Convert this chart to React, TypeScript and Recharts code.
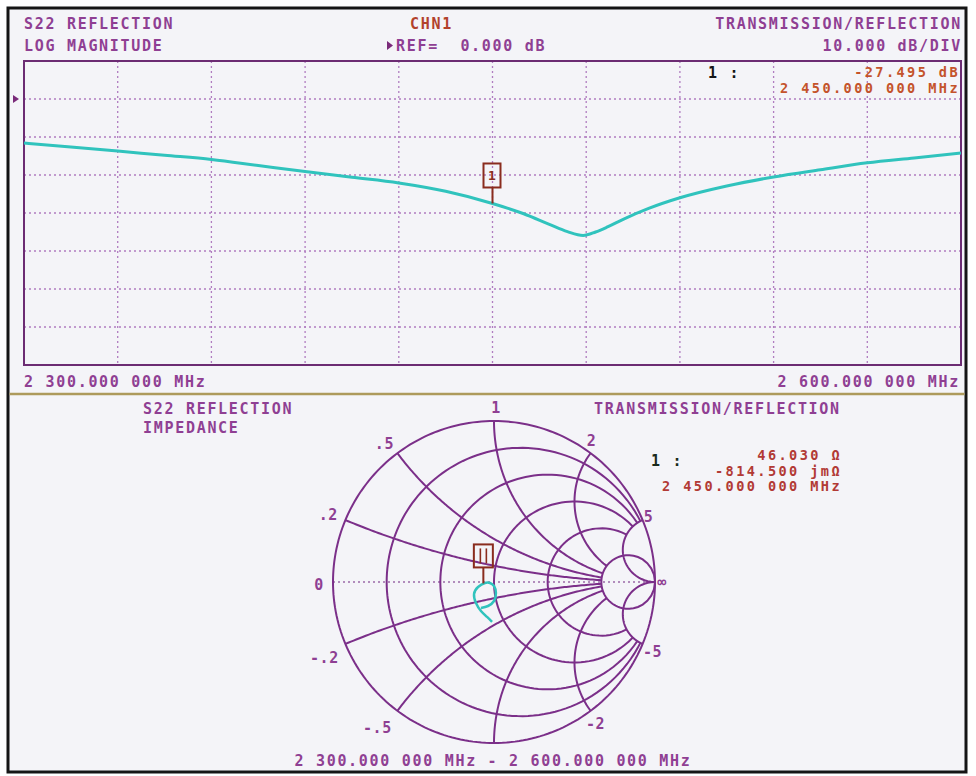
import React from 'react';
import {
  LineChart,
  Line,
  XAxis,
  YAxis,
  CartesianGrid,
  ReferenceArea,
  ReferenceDot,
  ReferenceLine,
  ScatterChart,
  Scatter,
} from 'recharts';

// ---------------- Data ----------------
const freqMHz = [2300, 2315, 2330, 2345, 2360, 2375, 2390, 2405, 2420, 2435, 2450, 2460, 2468, 2474, 2479, 2483, 2487, 2492, 2500, 2510, 2525, 2540, 2555, 2570, 2585, 2600];
const s22LogMagDb = [-11.6, -12.6, -13.7, -14.8, -15.9, -17.5, -19.1, -20.6, -22.1, -24.3, -27.5, -30.2, -32.9, -34.9, -35.9, -35.0, -33.6, -31.6, -28.8, -26.0, -22.9, -20.5, -18.6, -16.8, -15.5, -14.2];
const freqTicks = [2300, 2330, 2360, 2390, 2420, 2450, 2480, 2510, 2540, 2570, 2600];
const dbTicks = [-70, -60, -50, -40, -30, -20, -10, 0, 10];
const markerFreqMHz = 2450;
const markerDb = -27.495;

// Smith chart trace (reflection coefficient, real / imaginary)
const smithGammaRe = [-0.012, -0.043, -0.081, -0.112, -0.124, -0.099, -0.056, -0.025, 0.0, 0.012, 0.0, -0.037, -0.081];
const smithGammaIm = [-0.248, -0.217, -0.18, -0.13, -0.075, -0.031, -0.006, -0.006, -0.025, -0.068, -0.118, -0.149, -0.161];
const markerResOhm = 46.03;
const markerReactOhm = -0.8145;
const z0Ohm = 50;

const resistanceCircles = [0.2, 0.5, 1, 2, 5];
const reactanceArcs = [0.2, 0.5, 1, 2, 5];
const reactanceLabels = ['.2', '.5', '1', '2', '5'];

// ---------------- Styles ----------------
const PURPLE_TEXT = '#8f3f93';
const GRID = '#b07cc0';
const BORDER = '#6c2c73';
const SMITH = '#7b2f89';
const CYAN = '#30c3bd';
const BRICK = '#b2422c';
const ORANGE = '#c4532b';
const RED = '#b23a35';
const MARKER = '#8a2c1e';
const BLACK = '#151515';

const txt: React.CSSProperties = {
  fontFamily: "'DejaVu Sans Mono', monospace",
  fontSize: 15,
  fontWeight: 700,
  letterSpacing: 1.7,
};
const txtSmall: React.CSSProperties = { ...txt, fontSize: 13.6, letterSpacing: 2.4 };

const labelOffsets: Record<string, [number, number]> = {
  '1': [2, -13],
  '.5': [-13, -9],
  '2': [1, -12],
  '.2': [-17, -5],
  '5': [6, -3],
  '0': [-14, 3],
  '∞': [7, 0],
  '-.2': [-21, 14],
  '-5': [10, 8],
  '-.5': [-20, 17],
  '-2': [5, 13],
};

// ---------------- Derived tables ----------------
const topData = freqMHz.map((f, i) => ({ f, db: s22LogMagDb[i] }));
const traceData = smithGammaRe.map((x, i) => ({ x, y: smithGammaIm[i] }));

function gammaOf(r: number, x: number) {
  const den = (r + 1) * (r + 1) + x * x;
  return { x: (r * r + x * x - 1) / den, y: (2 * x) / den };
}

const markerGamma = gammaOf(markerResOhm / z0Ohm, markerReactOhm / z0Ohm);

const N = 140;
const maxR = Math.max(...resistanceCircles);
const maxX = Math.max(...reactanceArcs);

function resistanceCurve(r: number) {
  const lim = r === maxR ? Math.PI / 2 - 1e-3 : Math.atan(maxX);
  const pts = [] as { x: number; y: number }[];
  for (let i = 0; i <= N; i++) {
    const t = -lim + (2 * lim * i) / N;
    pts.push(gammaOf(r, Math.tan(t)));
  }
  return pts;
}

function reactanceCurve(x: number) {
  const lim = Math.abs(x) === maxX ? Math.PI / 2 - 1e-3 : Math.atan(maxR);
  const pts = [] as { x: number; y: number }[];
  for (let i = 0; i <= N; i++) {
    const s = (lim * i) / N;
    pts.push(gammaOf(Math.tan(s), x));
  }
  return pts;
}

const outerCircle = Array.from({ length: 241 }, (_, i) => {
  const a = (2 * Math.PI * i) / 240;
  return { x: Math.cos(a), y: Math.sin(a) };
});

const graticule = [
  outerCircle,
  ...resistanceCircles.map((r) => resistanceCurve(r)),
  ...reactanceArcs.map((x) => reactanceCurve(x)),
  ...reactanceArcs.map((x) => reactanceCurve(-x)),
];

const smithLabels = [
  ...reactanceArcs.map((x, i) => ({ ...gammaOf(0, x), label: reactanceLabels[i] })),
  ...reactanceArcs
    .filter((x) => x !== 1)
    .map((x) => ({ ...gammaOf(0, -x), label: '-' + reactanceLabels[reactanceArcs.indexOf(x)] })),
  { x: -1, y: 0, label: '0' },
  { x: 1, y: 0, label: '∞' },
];

// ---------------- Shapes ----------------
const NoDot = () => <g />;

const TopMarker = (props: any) => {
  const { cx, cy } = props;
  return (
    <g>
      <line x1={cx} y1={cy - 16} x2={cx} y2={cy} stroke={MARKER} strokeWidth={2} />
      <rect x={cx - 9} y={cy - 40} width={17} height={24} fill="none" stroke={MARKER} strokeWidth={2} />
      <text x={cx - 0.5} y={cy - 23} textAnchor="middle" style={{ ...txt, fontSize: 13, letterSpacing: 0 }} fill={MARKER}>
        1
      </text>
    </g>
  );
};

const RefArrow = (props: any) => {
  const { cx, cy } = props;
  return <polygon points={`${cx - 11},${cy - 4} ${cx - 11},${cy + 4} ${cx - 5},${cy}`} fill="#7a2a7a" />;
};

const SmithMarker = (props: any) => {
  const { cx, cy } = props;
  const bx = cx - 4;
  return (
    <g>
      <line x1={bx} y1={cy - 16} x2={bx} y2={cy} stroke={MARKER} strokeWidth={2} />
      <rect x={bx - 9.5} y={cy - 39} width={19} height={23} fill="none" stroke={MARKER} strokeWidth={2} />
      <line x1={bx - 3} y1={cy - 35} x2={bx - 3} y2={cy - 20} stroke={MARKER} strokeWidth={1.6} />
      <line x1={bx + 3} y1={cy - 35} x2={bx + 3} y2={cy - 20} stroke={MARKER} strokeWidth={1.6} />
    </g>
  );
};

const SmithLabel = (props: any) => {
  const { cx, cy, payload } = props;
  const off = labelOffsets[payload.label] || [0, 0];
  return (
    <text
      x={cx + off[0]}
      y={cy + off[1]}
      textAnchor="middle"
      dominantBaseline="central"
      style={{ ...txt, letterSpacing: 0.5 }}
      fill={PURPLE_TEXT}
    >
      {payload.label}
    </text>
  );
};

// ---------------- App ----------------
export default function App() {
  const abs: React.CSSProperties = { position: 'absolute', left: 0, top: 0 };
  return (
    <div style={{ ...abs, width: 976, height: 776, background: '#ffffff', overflow: 'hidden' }}>
      <svg width={976} height={776} style={abs}>
        <rect x={8} y={8} width={958} height={764} fill="#f4f4f8" stroke={BLACK} strokeWidth={3} />
        <line x1={9.5} y1={394} x2={964.5} y2={394} stroke="#ad9a5c" strokeWidth={2.5} />
      </svg>

      <div style={abs}>
        <LineChart width={976} height={400} data={topData} margin={{ top: 61, right: 15, bottom: 35, left: 24 }}>
          <XAxis dataKey="f" type="number" domain={[2300, 2600]} ticks={freqTicks} hide />
          <YAxis type="number" domain={[-70, 10]} ticks={dbTicks} hide />
          <CartesianGrid stroke={GRID} strokeDasharray="2 3" strokeWidth={1.3} />
          <ReferenceArea x1={2300} x2={2600} y1={-70} y2={10} fill="none" fillOpacity={0} stroke={BORDER} strokeWidth={2} />
          <Line dataKey="db" type="monotone" stroke={CYAN} strokeWidth={3} dot={false} isAnimationActive={false} />
          <ReferenceDot x={markerFreqMHz} y={markerDb} shape={TopMarker} />
          <ReferenceDot x={2300} y={0} shape={RefArrow} />
        </LineChart>
      </div>

      <div style={abs}>
        <ScatterChart width={976} height={776} margin={{ top: 421, right: 321, bottom: 33, left: 333 }}>
          <XAxis type="number" dataKey="x" domain={[-1, 1]} hide />
          <YAxis type="number" dataKey="y" domain={[-1, 1]} hide />
          {graticule.map((pts, i) => (
            <Scatter
              key={'g' + i}
              data={pts}
              line={{ stroke: SMITH, strokeWidth: 2 }}
              lineJointType="linear"
              shape={NoDot}
              isAnimationActive={false}
            />
          ))}
          <ReferenceLine y={0} stroke="#9a6aa8" strokeDasharray="2 3" strokeWidth={1.3} />
          <Scatter
            data={traceData}
            line={{ stroke: CYAN, strokeWidth: 2.5 }}
            lineJointType="natural"
            shape={NoDot}
            isAnimationActive={false}
          />
          <Scatter data={[markerGamma]} shape={SmithMarker} isAnimationActive={false} />
          <Scatter data={smithLabels} shape={SmithLabel} isAnimationActive={false} />
        </ScatterChart>
      </div>

      <svg width={976} height={776} style={{ ...abs, pointerEvents: 'none' }}>
        <g style={txt}>
          <text x={24} y={29} fill={PURPLE_TEXT}>S22 REFLECTION</text>
          <text x={24} y={51} fill={PURPLE_TEXT}>LOG MAGNITUDE</text>
          <text x={410} y={29} fill={BRICK}>CHN1</text>
          <polygon points="387,41 387,50 393,45.5" fill="#7a2a7a" />
          <text x={396} y={51} fill={PURPLE_TEXT} style={{ whiteSpace: 'pre' }}>{'REF=  0.000 dB'}</text>
          <text x={962} y={29} textAnchor="end" fill={PURPLE_TEXT}>TRANSMISSION/REFLECTION</text>
          <text x={962} y={51} textAnchor="end" fill={PURPLE_TEXT}>10.000 dB/DIV</text>
          <text x={708} y={78} fill={BLACK}>1 :</text>
          <text x={960} y={77} textAnchor="end" fill={ORANGE} style={txtSmall}>-27.495 dB</text>
          <text x={960} y={93} textAnchor="end" fill={ORANGE} style={txtSmall}>2 450.000 000 MHz</text>
          <text x={24} y={387} fill={PURPLE_TEXT}>2 300.000 000 MHz</text>
          <text x={960} y={387} textAnchor="end" fill={PURPLE_TEXT}>2 600.000 000 MHz</text>

          <text x={143} y={414} fill={PURPLE_TEXT}>S22 REFLECTION</text>
          <text x={143} y={433} fill={PURPLE_TEXT}>IMPEDANCE</text>
          <text x={594} y={414} fill={PURPLE_TEXT}>TRANSMISSION/REFLECTION</text>
          <text x={651} y={466} fill="#1a2a1c">1 :</text>
          <text x={842} y={460} textAnchor="end" fill={RED} style={txtSmall}>46.030 Ω</text>
          <text x={842} y={475.5} textAnchor="end" fill={RED} style={txtSmall}>-814.500 jmΩ</text>
          <text x={842} y={491} textAnchor="end" fill={RED} style={txtSmall}>2 450.000 000 MHz</text>
          <text x={493} y={766} textAnchor="middle" fill={PURPLE_TEXT}>2 300.000 000 MHz - 2 600.000 000 MHz</text>
        </g>
      </svg>
    </div>
  );
}
